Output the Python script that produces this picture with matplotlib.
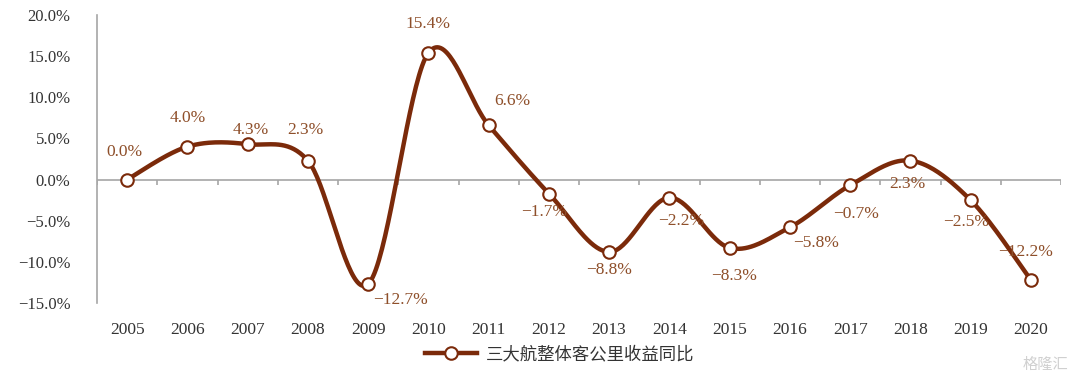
import numpy as np
import matplotlib
matplotlib.use("Agg")
import matplotlib.pyplot as plt
from matplotlib.lines import Line2D

years = ["2005", "2006", "2007", "2008", "2009", "2010", "2011", "2012",
         "2013", "2014", "2015", "2016", "2017", "2018", "2019", "2020"]
values = [0.0, 4.0, 4.3, 2.3, -12.7, 15.4, 6.6, -1.7,
          -8.8, -2.2, -8.3, -5.8, -0.7, 2.3, -2.5, -12.2]
series_name = "三大航整体客公里收益同比"
# label offsets in pixels (dx, dy)
label_offsets = [(-3, 28), (0, 29), (3, 14), (-3, 31), (32, -16), (0, 29),
                 (24, 24), (-5, -18), (0, -18), (12, -23), (4, -28), (26, -16),
                 (6, -29), (-3, -23), (-4, -22), (-5, 28)]

LINE = "#7B2A0A"
LABEL = "#8E4F2A"
TXT = "#333333"
SERIF = ["Liberation Serif", "DejaVu Serif"]

plt.rcParams["font.family"] = SERIF

fig = plt.figure(figsize=(10.8, 3.77), dpi=100)
ax = fig.add_axes([97 / 1080, 1 - 303 / 377, (1061 - 97) / 1080, 288 / 377])

x = np.arange(len(values)) + 0.5
y = np.array(values)

# Catmull-Rom (Excel-like) smoothing
def smooth(xs, ys, n=40):
    px = np.concatenate([[xs[0]], xs, [xs[-1]]])
    py = np.concatenate([[ys[0]], ys, [ys[-1]]])
    outx, outy = [], []
    for i in range(1, len(px) - 2):
        p0, p1, p2, p3 = (np.array([px[j], py[j]]) for j in (i - 1, i, i + 1, i + 2))
        c1 = p1 + (p2 - p0) / 6
        c2 = p2 - (p3 - p1) / 6
        t = np.linspace(0, 1, n)[:, None]
        b = ((1 - t) ** 3) * p1 + 3 * ((1 - t) ** 2) * t * c1 + 3 * (1 - t) * t ** 2 * c2 + t ** 3 * p2
        outx.extend(b[:, 0]); outy.extend(b[:, 1])
    return np.array(outx), np.array(outy)

sx, sy = smooth(x, y)

ax.set_xlim(0, len(values))
ax.set_ylim(-15, 20)

ax.axhline(0, color="#A6A6A6", lw=1.2, zorder=1)
ax.vlines(np.arange(0, len(values) + 1), -0.6, 0, color="#A6A6A6", lw=1.2, zorder=1)

ax.plot(sx, sy, color=LINE, lw=3.2, zorder=3, solid_capstyle="round")
ax.plot(x, y, ls="none", marker="o", ms=9, mfc="white", mec=LINE, mew=1.5, zorder=4)

for xi, yi, (dx, dy) in zip(x, y, label_offsets):
    ax.annotate(f"{yi:.1f}%".replace("-", "−"), (xi, yi), xytext=(dx * 0.72, dy * 0.72),
                textcoords="offset points", ha="center", va="center",
                color=LABEL, fontsize=12.5)

for s in ["top", "right", "bottom"]:
    ax.spines[s].set_visible(False)
ax.spines["left"].set_color("#A6A6A6")
ax.spines["left"].set_linewidth(1.2)

ax.set_xticks(x)
ax.set_xticklabels(years)
ax.set_yticks(np.arange(-15, 21, 5))
ax.set_yticklabels([f"{v:.1f}%".replace("-", "−") for v in np.arange(-15, 21, 5)])
ax.tick_params(axis="x", length=0, pad=14, labelsize=12.5, labelcolor=TXT)
ax.tick_params(axis="y", length=0, pad=19, labelsize=12, labelcolor=TXT)

handle = Line2D([], [], color=LINE, lw=3.2, marker="o", ms=9, mfc="white", mec=LINE, mew=1.5)
leg = fig.legend([handle], [series_name], loc="center", bbox_to_anchor=(560 / 1080, 1 - 354 / 377),
                 frameon=False, prop={"family": ["Noto Sans CJK SC"], "size": 12.5},
                 handlelength=3.0, handletextpad=0.5)
for t in leg.get_texts():
    t.set_color(TXT)

fig.text(1068 / 1080, 1 - 364 / 377, "格隆汇", ha="right", va="center", color="#D0D0D0",
         fontsize=11, family=["Noto Sans CJK SC"])

fig.savefig("out.png", dpi=100)
